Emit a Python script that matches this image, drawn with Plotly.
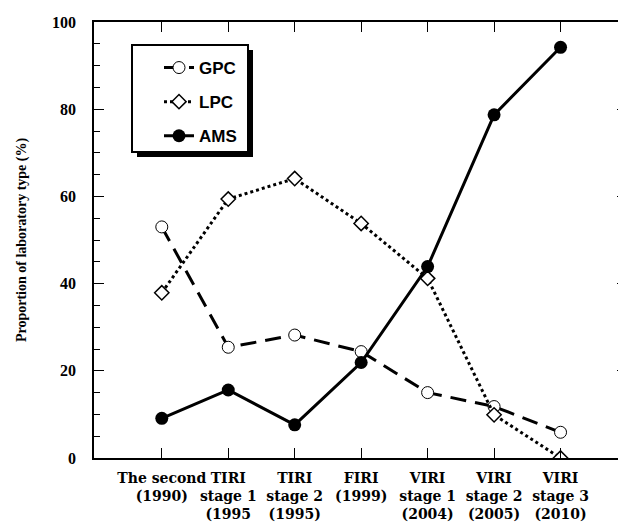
import plotly.graph_objects as go

categories = ["The second<br>(1990)", "TIRI<br>stage 1<br>(1995", "TIRI<br>stage 2<br>(1995)",
              "FIRI<br>(1999)", "VIRI<br>stage 1<br>(2004)", "VIRI<br>stage 2<br>(2005)",
              "VIRI<br>stage 3<br>(2010)"]
gpc = [53, 25.4, 28.2, 24.4, 15, 11.8, 5.9]
lpc = [37.9, 59.4, 64.1, 53.8, 41.2, 9.9, 0]
ams = [9.1, 15.6, 7.6, 21.9, 43.9, 78.7, 94.2]
y_ticks = [0, 20, 40, 60, 80, 100]

# the original frame extends past the right edge of the 618px picture
W, H = 628, 523
L, R, T, B = 94, 627, 22, 458   # plot area in pixels


def px(xp):
    return (xp - L) / (R - L)


def py(yp):
    return (B - yp) / (B - T)


fig = go.Figure()
fig.add_trace(go.Scatter(x=categories, y=gpc, name="GPC", mode="lines+markers",
                         legendgroup="g",
                         line=dict(color="black", width=3, dash="16px,9px"),
                         marker=dict(symbol="circle", size=12, color="white",
                                     line=dict(color="black", width=1))))
fig.add_trace(go.Scatter(x=categories, y=lpc, name="LPC", mode="lines+markers",
                         legendgroup="l",
                         line=dict(color="black", width=3, dash="dot"),
                         marker=dict(symbol="diamond", size=11, color="white",
                                     line=dict(color="black", width=1.5))))
fig.add_trace(go.Scatter(x=categories, y=ams, name="AMS", mode="lines+markers",
                         legendgroup="a",
                         line=dict(color="black", width=3),
                         marker=dict(symbol="circle", size=13, color="black")))

# legend frame with drop shadow
bx0, by0, bx1, by1 = 132, 45, 248, 152
fig.add_shape(type="rect", xref="paper", yref="paper",
              x0=px(bx0 + 5), x1=px(bx1 + 5), y0=py(by1 + 5), y1=py(by0 + 5),
              fillcolor="black", line=dict(width=0), layer="above")
fig.add_shape(type="rect", xref="paper", yref="paper",
              x0=px(bx0), x1=px(bx1), y0=py(by1), y1=py(by0),
              fillcolor="white", line=dict(color="black", width=2), layer="above")

fig.update_layout(
    width=W, height=H,
    margin=dict(l=L, r=W - R, t=T, b=H - B, pad=0, autoexpand=False),
    plot_bgcolor="white", paper_bgcolor="white",
    showlegend=True,
    legend=dict(x=px(159), y=py(50), xanchor="left", yanchor="top",
                bgcolor="rgba(0,0,0,0)", borderwidth=0,
                font=dict(family="Liberation Sans", size=17, color="black", weight="bold"),
                tracegroupgap=9, traceorder="grouped"),
    xaxis=dict(type="category", range=[-1.02, 7.0], showline=True, linecolor="black", linewidth=1.5,
               mirror="ticks", ticks="inside", ticklen=10, tickcolor="black", showgrid=False,
               tickangle=0, automargin=False, ticklabelstandoff=6,
               tickfont=dict(family="DejaVu Serif", size=14, color="black", weight="bold")),
    yaxis=dict(range=[0, 100], tickvals=y_ticks, showline=True, linecolor="black", linewidth=1.5,
               mirror="ticks", ticks="inside", ticklen=10, tickcolor="black", showgrid=False,
               zeroline=False, ticklabelstandoff=13, automargin=False,
               minor=dict(dtick=5, ticks="inside", ticklen=6, tickcolor="black"),
               tickfont=dict(family="Liberation Serif", size=16, color="black", weight="bold"),
               title=dict(text="Proportion of laboratory type (%)",
                          font=dict(family="Liberation Serif", size=14, color="black", weight="bold"),
                          standoff=22)),
)
fig.write_html("out.html", config={"displayModeBar": False},
               post_script="document.body.style.margin='0';document.body.style.overflow='hidden';")
